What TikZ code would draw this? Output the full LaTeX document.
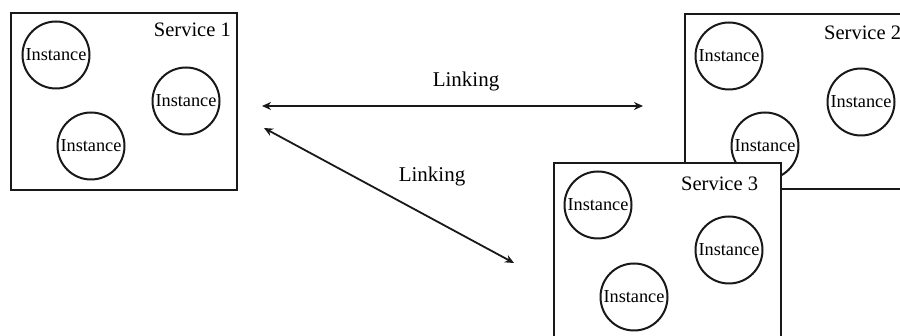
\documentclass[tikz,border=0pt]{standalone}
\usepackage{fontspec}
\setmainfont{Liberation Serif}
\usetikzlibrary{arrows.meta}
\tikzset{
  svc/.style={draw=black!90, line width=2.6pt, fill=white},
  inst/.style={circle, draw=black!90, line width=2pt, fill=white, inner sep=0pt, minimum size=67pt,
     font=\fontsize{18.3}{18.3}\selectfont},
  svclabel/.style={inner sep=0pt, font=\fontsize{20.5}{20.5}\selectfont},
  linklabel/.style={inner sep=0pt, font=\fontsize{21}{21}\selectfont},
  linkarrow/.style={line width=1.8pt, black!90, {Stealth[length=9pt,width=8pt]}-{Stealth[length=9pt,width=8pt]}}
}
\begin{document}
\begin{tikzpicture}[x=1pt,y=-1pt]
\clip (0,0) rectangle (900,336);
\fill[white] (0,0) rectangle (900,336);
% Service 1
\draw[svc] (11,13) rectangle (237,190);
\node[svclabel, anchor=east] (s1) at (231,30) {Service 1};
\node[inst] (s1a) at (56,55) {Instance};
\node[inst] (s1b) at (186,101) {Instance};
\node[inst] (s1c) at (91,146) {Instance};
% Service 2
\draw[svc] (685,14) rectangle (930,189);
\node[svclabel, anchor=west] (s2) at (824,33) {Service 2};
\node[inst] (s2a) at (729,56) {Instance};
\node[inst] (s2b) at (861,102) {Instance};
\node[inst] (s2c) at (765,146) {Instance};
% Service 3
\draw[svc] (554,163) rectangle (781,360);
\node[svclabel, anchor=west] (s3) at (681,184) {Service 3};
\node[inst] (s3a) at (598,205) {Instance};
\node[inst] (s3b) at (729,250) {Instance};
\node[inst] (s3c) at (634,297) {Instance};
% Links
\coordinate (h1) at (262,106);
\coordinate (h2) at (643,106);
\coordinate (d1) at (264,128);
\coordinate (d2) at (514,263);
\draw[linkarrow] (h1) -- (h2);
\draw[linkarrow] (d1) -- (d2);
\node[linklabel] (l1) at (466,81) {Linking};
\node[linklabel] (l2) at (432,176) {Linking};
\end{tikzpicture}
\end{document}
